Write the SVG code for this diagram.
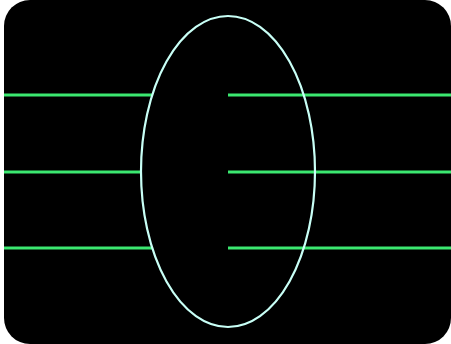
<svg xmlns="http://www.w3.org/2000/svg" width="451" height="344" viewBox="0 0 451 344">
<style>
.bg{fill:#000}
.wire{stroke:#3be870;stroke-width:3;fill:none}
.lens{stroke:#c8fff6;stroke-width:2.2;fill:none}
</style>
<rect width="451" height="344" fill="#fff"/>
<rect class="bg" x="4" y="0" width="447" height="344" rx="26" ry="26"/>
<g id="connectors">
<line class="wire" x1="4" y1="95" x2="152" y2="95"/>
<line class="wire" x1="4" y1="172" x2="141" y2="172"/>
<line class="wire" x1="4" y1="248" x2="152" y2="248"/>
<line class="wire" x1="228" y1="95" x2="451" y2="95"/>
<line class="wire" x1="228" y1="172" x2="451" y2="172"/>
<line class="wire" x1="228" y1="248" x2="451" y2="248"/>
</g>
<g id="lens">
<ellipse class="lens" cx="228" cy="171.5" rx="87" ry="155.5"/>
</g>
</svg>
